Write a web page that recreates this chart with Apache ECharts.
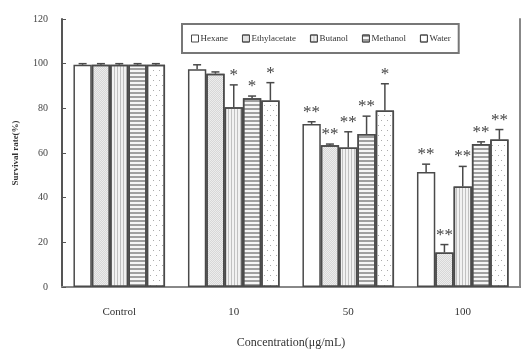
<!DOCTYPE html>
<html><head><meta charset="utf-8">
<script src="https://cdn.jsdelivr.net/npm/echarts@6/dist/echarts.min.js"></script>
<style>html,body{margin:0;padding:0;background:#fff}#c{width:522px;height:350px}</style>
</head><body><div id="c"></div>
<script>
const categories = ['Control', '10', '50', '100'];
const seriesNames = ['Hexane', 'Ethylacetate', 'Butanol', 'Methanol', 'Water'];
const hexane = [99.5, 97.5, 73, 51.5];
const ethylacetate = [99.5, 95.5, 63.5, 15.5];
const butanol = [99.5, 80.5, 62.5, 45];
const methanol = [99.5, 84.5, 68.5, 64];
const water = [99.5, 83.5, 79, 66];
const hexaneErr = [0.5, 2, 1, 3.5];
const ethylacetateErr = [0.5, 0.8, 0.5, 3.5];
const butanolErr = [0.5, 10, 7, 9];
const methanolErr = [0.5, 1, 8, 1];
const waterErr = [0.5, 8, 12, 4.5];
const hexaneMark = ['', '', '**', '**'];
const ethylacetateMark = ['', '', '**', '**'];
const butanolMark = ['', '*', '**', '**'];
const methanolMark = ['', '*', '**', '**'];
const waterMark = ['', '*', '*', '**'];
const yTicks = [0, 20, 40, 60, 80, 100, 120];

const values = [hexane, ethylacetate, butanol, methanol, water];
const errs = [hexaneErr, ethylacetateErr, butanolErr, methanolErr, waterErr];
const marks = [hexaneMark, ethylacetateMark, butanolMark, methanolMark, waterMark];

const border = '#4a4a4a';
const decals = [
  null,
  {symbol: 'rect', symbolSize: 1, dashArrayX: [[1, 1], [0, 1, 1, 0]], dashArrayY: [1, 0], color: 'rgba(150,150,150,0.25)'},
  {symbol: 'rect', symbolSize: 1, dashArrayX: [1, 2], dashArrayY: [1, 0], color: 'rgba(120,120,120,0.4)'},
  {symbol: 'rect', symbolSize: 1, dashArrayX: [1, 0], dashArrayY: [1.5, 1.5], color: 'rgba(90,90,90,0.55)'},
  {symbol: 'rect', symbolSize: 1, dashArrayX: [[1, 5], [0, 3, 1, 2]], dashArrayY: [1, 4], color: 'rgba(100,100,100,0.55)'}
];
const fills = ['#ffffff', '#ececec', '#f2f2f2', '#f6f6f6', '#ffffff'];

const nS = 5, catGap = 0.2;
const series = [];
seriesNames.forEach((name, i) => {
  const is = {color: fills[i], borderColor: border, borderWidth: 1.5};
  if (decals[i]) is.decal = decals[i];
  series.push({
    name: name, type: 'bar', data: values[i], barGap: 0, barCategoryGap: '20%',
    itemStyle: is, emphasis: {disabled: true}
  });
});
seriesNames.forEach((name, i) => {
  series.push({
    type: 'custom', z: 5, silent: true,
    data: categories.map((c, k) => [k, values[i][k], errs[i][k]]),
    renderItem: function (params, api) {
      const k = api.value(0), v = api.value(1), e = api.value(2);
      const mark = marks[i][k];
      const catW = api.size([1, 0])[0];
      const bw = catW * (1 - catGap) / nS;
      const base = api.coord([k, v]);
      const x = base[0] - catW * (1 - catGap) / 2 + bw * (i + 0.5);
      const top = api.coord([k, v + e])[1];
      const cap = 4;
      const children = [
        {type: 'line', shape: {x1: x, y1: base[1], x2: x, y2: top}, style: {stroke: border, lineWidth: 1.5}},
        {type: 'line', shape: {x1: x - cap, y1: top, x2: x + cap, y2: top}, style: {stroke: border, lineWidth: 1.5}}
      ];
      if (mark) {
        children.push({type: 'text', style: {text: mark, x: x, y: top - 1, align: 'center', verticalAlign: 'bottom',
          fill: '#444', font: '17px "Liberation Serif"'}});
      }
      return {type: 'group', children: children};
    }
  });
});

const chart = echarts.init(document.getElementById('c'), null, {renderer: 'canvas'});
chart.setOption({
  animation: false,
  backgroundColor: '#fff',
  grid: {left: 62, right: 2, top: 19, bottom: 63, outerBoundsMode: 'none', containLabel: false},
  legend: {
    data: seriesNames, left: 182, top: 24, width: 333, height: 32,
    borderColor: '#777', borderWidth: 2, padding: [10, 8, 10, 9],
    itemWidth: 7, itemHeight: 7, itemGap: 14, icon: 'rect',
    textStyle: {fontFamily: 'Liberation Serif', fontSize: 9, color: '#333', padding: [0, 0, 0, -3]},
    itemStyle: {borderColor: border, borderWidth: 1}
  },
  xAxis: [{
    type: 'category', data: categories,
    axisLine: {lineStyle: {color: '#555', width: 2}},
    axisTick: {inside: true, length: 4, lineStyle: {color: '#555'}},
    axisLabel: {fontFamily: 'Liberation Serif', fontSize: 11, color: '#333', margin: 20},
    name: 'Concentration(μg/mL)', nameLocation: 'middle', nameGap: 50,
    nameTextStyle: {fontFamily: 'Liberation Serif', fontSize: 12, color: '#333'}
  }, {
    type: 'category', data: categories, position: 'top',
    axisLine: {lineStyle: {color: '#888', width: 2}}, axisTick: {show: false}, axisLabel: {show: false}
  }],
  yAxis: [{
    type: 'value', min: 0, max: 120, interval: 20,
    axisLine: {show: true, lineStyle: {color: '#555', width: 2}},
    axisTick: {show: true, inside: true, length: 4, lineStyle: {color: '#555'}},
    splitLine: {show: false},
    axisLabel: {fontFamily: 'Liberation Serif', fontSize: 10, color: '#444', margin: 14,
      formatter: v => yTicks.indexOf(v) >= 0 ? String(v) : ''},
    name: 'Survival rate(%)', nameLocation: 'middle', nameGap: 42, nameRotate: 90,
    nameTextStyle: {fontFamily: 'Liberation Serif', fontSize: 9, fontWeight: 'bold', color: '#333'}
  }, {
    type: 'value', min: 0, max: 120, interval: 20, position: 'right',
    axisLine: {show: true, lineStyle: {color: '#888', width: 2}},
    axisTick: {show: false}, axisLabel: {show: false}, splitLine: {show: false}
  }],
  series: series
});
</script></body></html>
